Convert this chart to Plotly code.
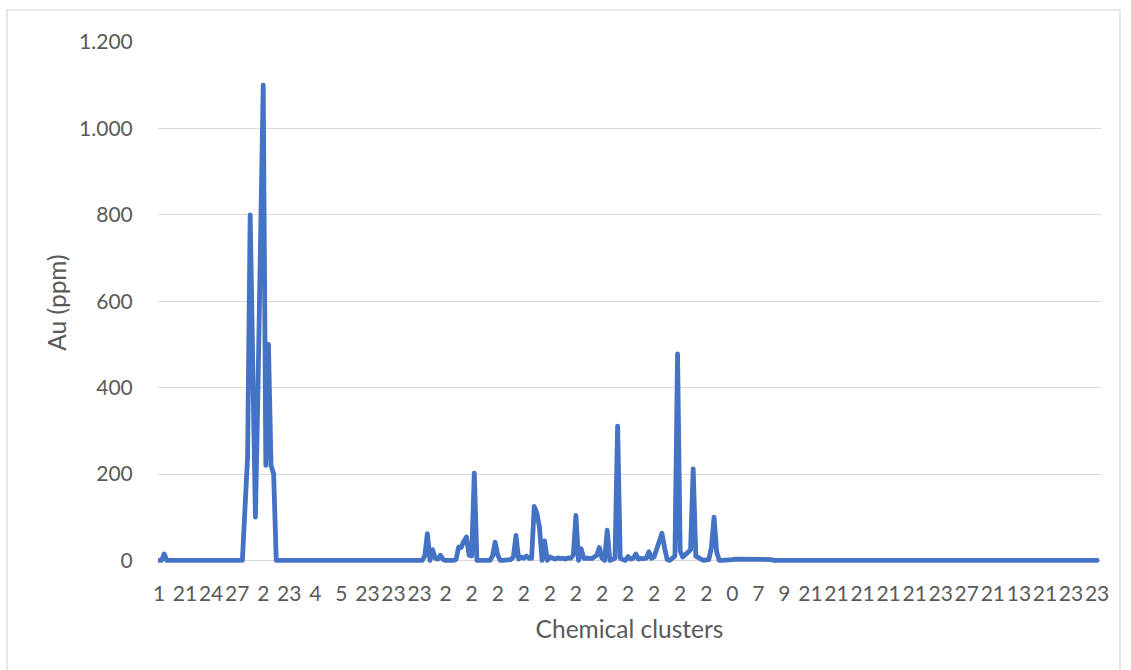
import plotly.graph_objects as go

# Au assay per sample, in sample order (ppm)
au_ppm = [
    0, 0, 15, 0, 0, 0, 0, 0, 0, 0,
    0, 0, 0, 0, 0, 0, 0, 0, 0, 0,
    0, 0, 0, 0, 0, 0, 0, 0, 0, 0,
    0, 0, 0, 120, 240, 800, 450, 100, 400, 750,
    1100, 220, 500, 220, 200, 0, 0, 0, 0, 0,
    0, 0, 0, 0, 0, 0, 0, 0, 0, 0,
    0, 0, 0, 0, 0, 0, 0, 0, 0, 0,
    0, 0, 0, 0, 0, 0, 0, 0, 0, 0,
    0, 0, 0, 0, 0, 0, 0, 0, 0, 0,
    0, 0, 0, 0, 0, 0, 0, 0, 0, 0,
    0, 0, 10, 62, 0, 25, 5, 3, 12, 2,
    0, 1, 0, 0, 2, 31, 30, 45, 54, 12,
    10, 202, 0, 0, 0, 0, 2, 0, 10, 42,
    12, 0, 0, 0, 2, 2, 8, 58, 3, 8,
    5, 10, 5, 5, 125, 110, 77, 0, 45, 0,
    8, 5, 3, 6, 4, 5, 3, 6, 5, 12,
    104, 0, 27, 5, 6, 5, 4, 8, 12, 30,
    5, 0, 70, 0, 2, 5, 311, 5, 2, 0,
    9, 3, 5, 15, 3, 5, 4, 5, 20, 5,
    8, 25, 45, 63, 30, 2, 0, 5, 10, 478,
    22, 8, 12, 19, 25, 212, 10, 5, 3, 0,
    0, 2, 30, 100, 20, 0, 0, 0, 0, 0,
    2, 3, 3, 3, 3, 2, 3, 3, 3, 3,
    3, 3, 3, 3, 3, 2, 0, 0, 0, 0,
    0, 0, 0, 0, 0, 0, 0, 0, 0, 0,
    0, 0, 0, 0, 0, 0, 0, 0, 0, 0,
    0, 0, 0, 0, 0, 0, 0, 0, 0, 0,
    0, 0, 0, 0, 0, 0, 0, 0, 0, 0,
    0, 0, 0, 0, 0, 0, 0, 0, 0, 0,
    0, 0, 0, 0, 0, 0, 0, 0, 0, 0,
    0, 0, 0, 0, 0, 0, 0, 0, 0, 0,
    0, 0, 0, 0, 0, 0, 0, 0, 0, 0,
    0, 0, 0, 0, 0, 0, 0, 0, 0, 0,
    0, 0, 0, 0, 0, 0, 0, 0, 0, 0,
    0, 0, 0, 0, 0, 0, 0, 0, 0, 0,
    0, 0, 0, 0, 0, 0, 0, 0, 0, 0,
    0,
]

# Chemical cluster of every 10th sample (axis labels)
cluster_labels = [
    "1", "21", "24", "27", "2", "23", "4", "5", "23", "23", "23",
    "2", "2", "2", "2", "2", "2", "2", "2", "2", "2", "2",
    "0", "7", "9", "21", "21", "21", "21", "21",
    "23", "27", "21", "13", "21", "23", "23",
]

label_step = 10
sample_idx = list(range(len(au_ppm)))
label_idx = sample_idx[::label_step][:len(cluster_labels)]

TEXT = "#595959"
GRID = "#d9d9d9"
FONT = "Lato"

fig = go.Figure(
    go.Scatter(
        x=sample_idx,
        y=au_ppm,
        mode="lines",
        line=dict(color="#4472C4", width=4.8),
        hoverinfo="x+y",
    )
)

fig.update_layout(
    width=1131,
    height=670,
    margin=dict(l=158, r=30, t=42, b=107),
    paper_bgcolor="white",
    plot_bgcolor="white",
    showlegend=False,
    separators=",.",
    font=dict(family=FONT, color=TEXT, size=21),
)

fig.update_xaxes(
    range=[-0.38, 361.5],
    tickmode="array",
    tickvals=label_idx,
    ticktext=cluster_labels,
    tickangle=0,
    showgrid=False,
    zeroline=False,
    showline=False,
    ticks="outside",
    ticklen=12,
    tickcolor="rgba(0,0,0,0)",
    tickfont=dict(family=FONT, size=21, color=TEXT),
    title=dict(text="Chemical clusters", font=dict(family=FONT, size=24.5, color=TEXT), standoff=16),
)

fig.update_yaxes(
    range=[-6, 1200],
    tickmode="linear",
    tick0=0,
    dtick=200,
    separatethousands=True,
    tickformat=",d",
    showgrid=True,
    gridcolor=GRID,
    gridwidth=1.3,
    zeroline=True,
    zerolinecolor=GRID,
    zerolinewidth=1.3,
    showline=False,
    ticks="outside",
    ticklen=20,
    tickcolor="rgba(0,0,0,0)",
    tickfont=dict(family=FONT, size=21, color=TEXT),
    title=dict(text="Au (ppm)", font=dict(family=FONT, size=24.5, color=TEXT), standoff=5),
)

# light frame around the chart area
fig.add_shape(
    type="rect",
    xref="paper", yref="paper",
    x0=-0.1601, x1=1.0201, y0=-0.2255, y1=1.0615,
    line=dict(color=GRID, width=1.3),
    fillcolor="rgba(0,0,0,0)",
    layer="below",
)

# rounded joins on the series line
round_joins = """
var gd = document.getElementsByClassName('plotly-graph-div')[0];
function roundLines() {
  gd.querySelectorAll('.scatterlayer path.js-line').forEach(function (p) {
    p.style.strokeLinejoin = 'round';
    p.style.strokeLinecap = 'round';
  });
}
roundLines();
gd.on('plotly_afterplot', roundLines);
"""

fig.write_html("out.html", post_script=round_joins)
